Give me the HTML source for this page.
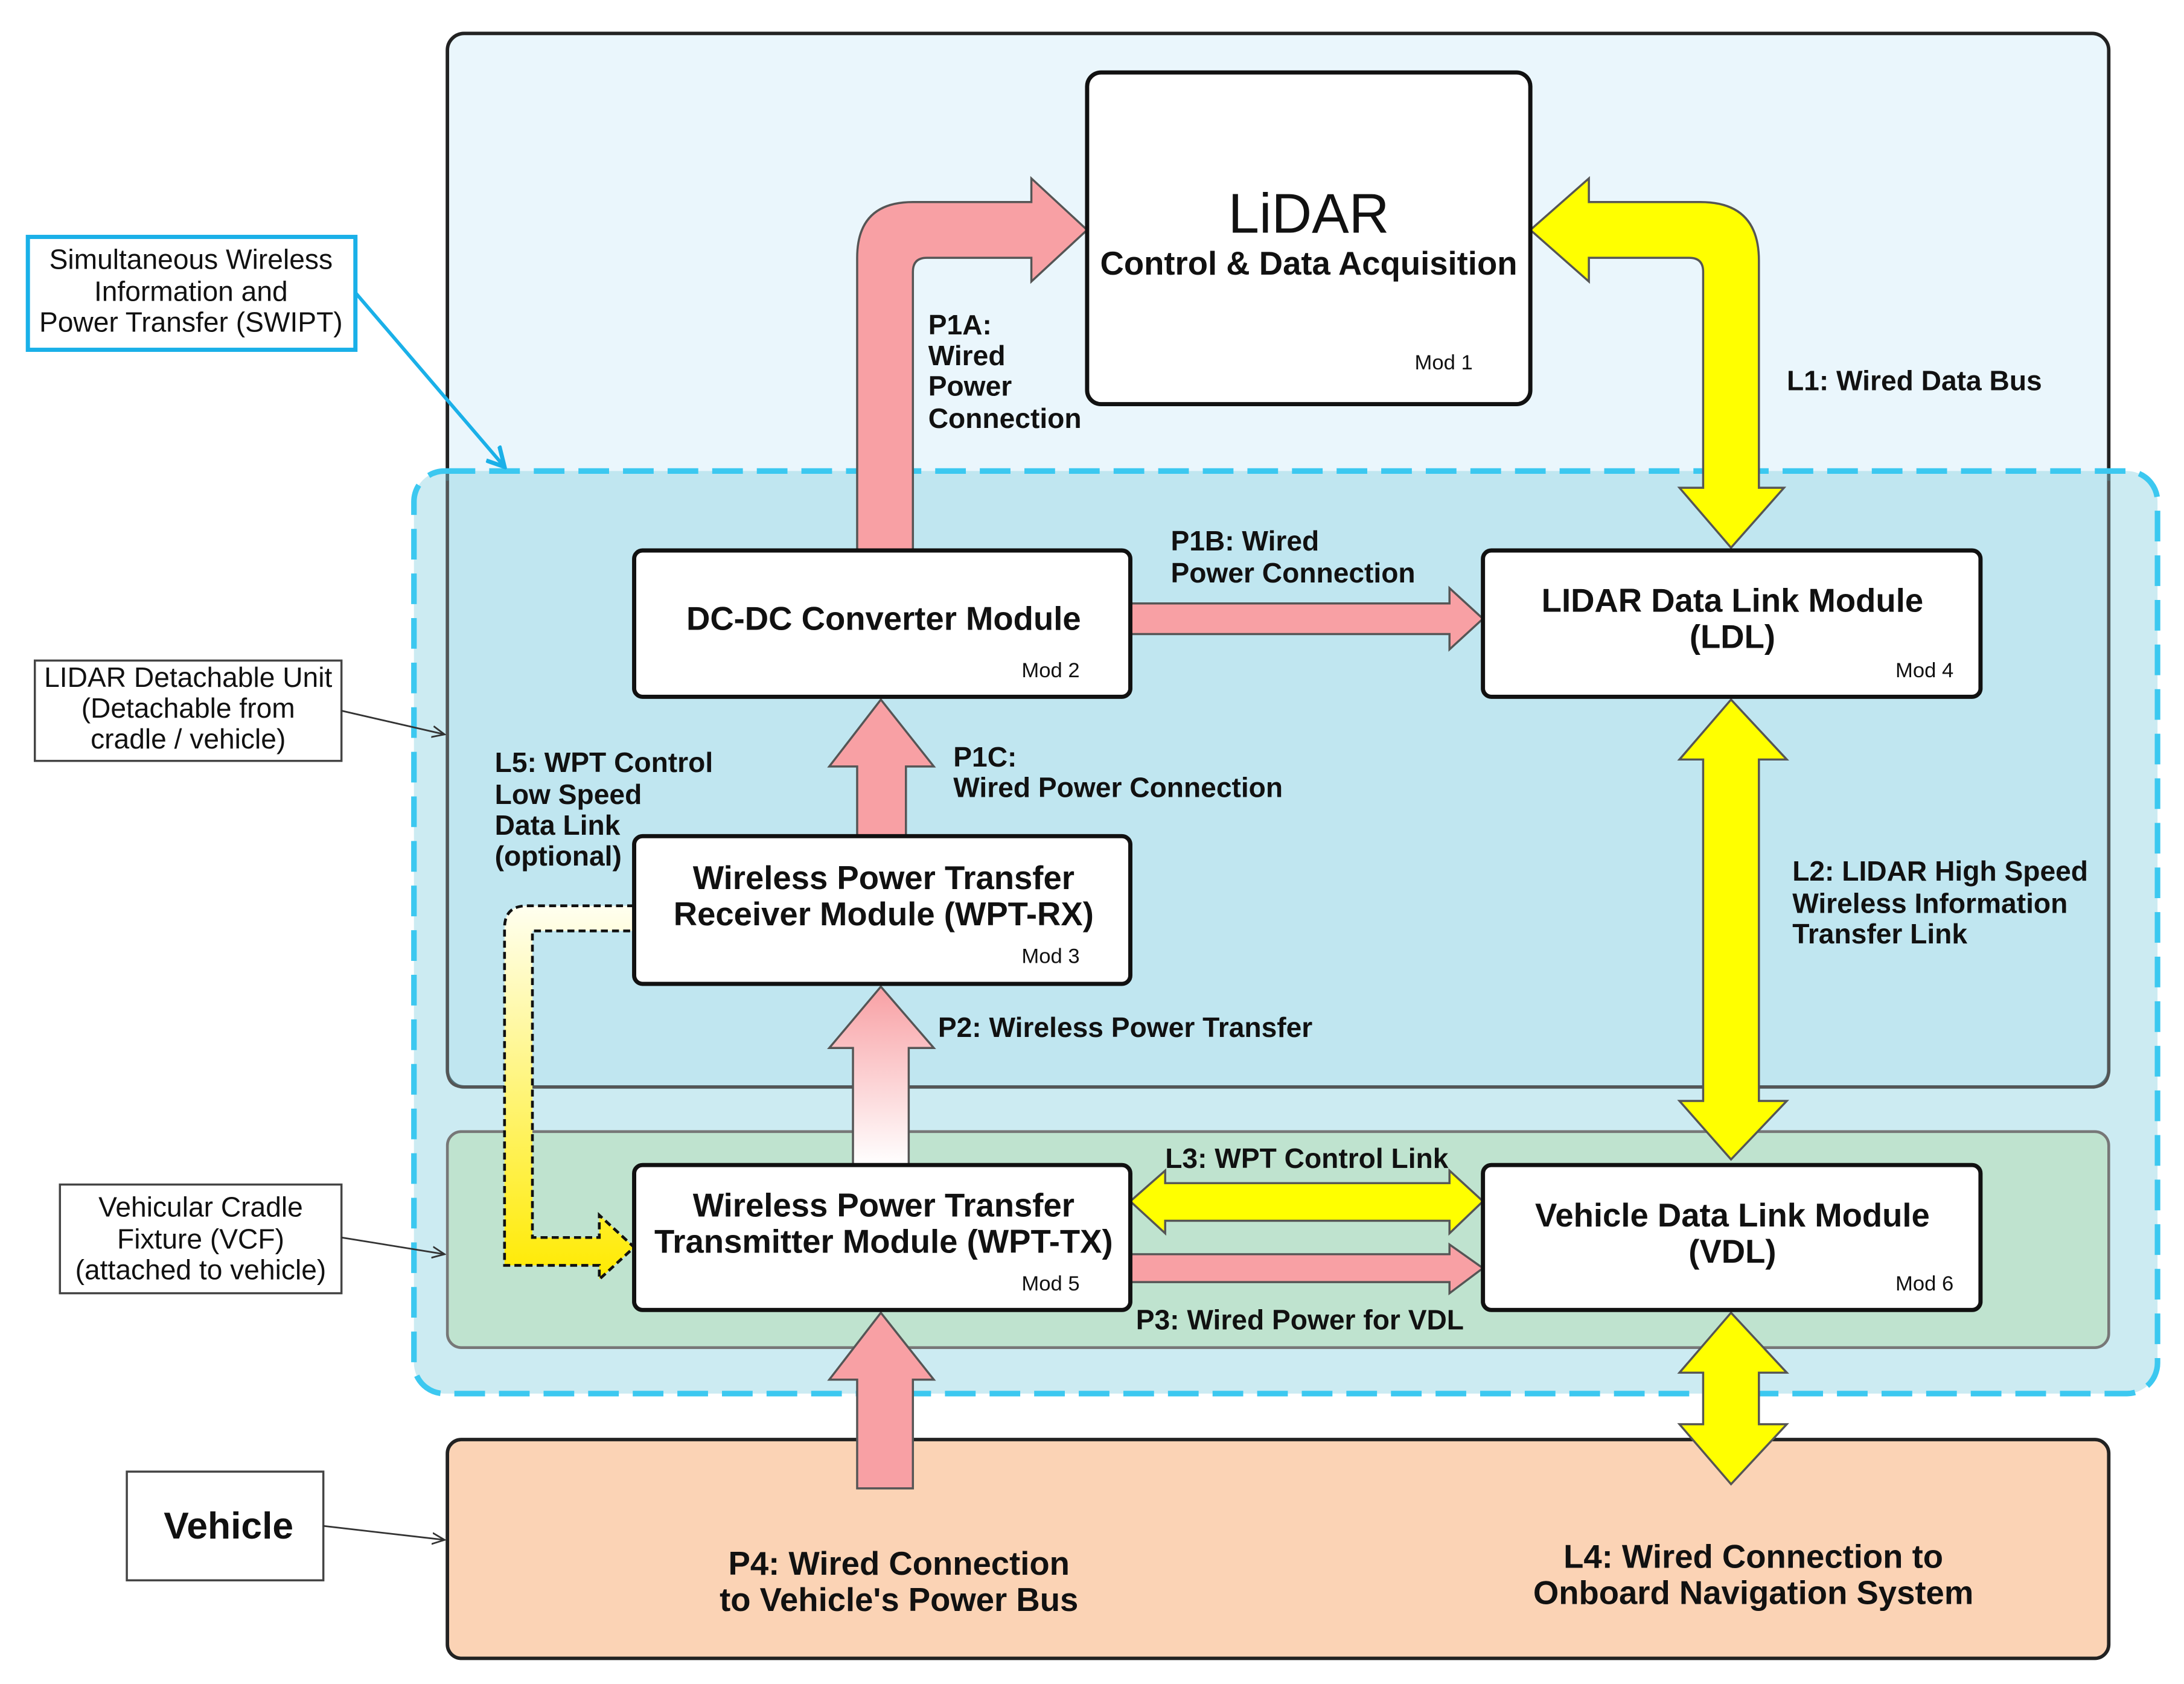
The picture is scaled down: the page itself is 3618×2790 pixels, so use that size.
<!DOCTYPE html>
<html><head><meta charset="utf-8"><style>
html,body{margin:0;padding:0;background:#fff;}
svg{display:block;}
text{font-family:"Liberation Sans",Arial,sans-serif;fill:#111;}
.b{font-weight:bold;font-size:20px;}
.bx{font-weight:bold;font-size:23.6px;}
.m{font-size:15px;}
.n{font-size:20px;}
</style></head><body>
<svg width="3618" height="2790" viewBox="0 0 1567 1208.4" preserveAspectRatio="none" xmlns="http://www.w3.org/2000/svg">
<defs>
<linearGradient id="gp2" x1="0" y1="0" x2="0" y2="1"><stop offset="0" stop-color="#f8a0a4"/><stop offset="1" stop-color="#fff"/></linearGradient>
<linearGradient id="gl5" x1="0" y1="0" x2="0" y2="1"><stop offset="0" stop-color="#fffff0"/><stop offset="1" stop-color="#ffea00"/></linearGradient>
<marker id="ah" markerWidth="10" markerHeight="10" refX="9" refY="5" orient="auto" markerUnits="userSpaceOnUse"><path d="M0,1 L9,5 L0,9" fill="none" stroke="#333" stroke-width="1.2"/></marker>
<marker id="ahc" markerWidth="16" markerHeight="16" refX="14" refY="8" orient="auto" markerUnits="userSpaceOnUse"><path d="M0,1 L14,8 L2,15" fill="none" stroke="#1ab0e8" stroke-width="3"/></marker>
</defs>
<rect width="1600" height="1250" fill="#fff"/>
<rect x="321" y="24" width="1192" height="756" rx="12" fill="#eaf6fc" stroke="#222" stroke-width="2.5"/>
<rect x="297" y="338" width="1251" height="662" rx="22" fill="#8fd3e3" fill-opacity="0.45" stroke="#3cc8f0" stroke-width="4" stroke-dasharray="22,10"/>
<path d="M321,345 L321,768 Q321,780 333,780 L1501,780 Q1513,780 1513,768 L1513,345" fill="none" stroke="#555" stroke-width="2"/>
<rect x="321" y="812" width="1192" height="155" rx="10" fill="#bfe3cf" stroke="#777" stroke-width="2"/>
<rect x="321" y="1033" width="1192" height="157" rx="10" fill="#fbd3b5" stroke="#222" stroke-width="2.5"/>

<path d="M615,395 L615,185 Q615,145 655,145 L740,145 L740,128 L780,165 L740,202 L740,185 L665,185 Q655,185 655,195 L655,395 Z" fill="#f8a0a4" stroke="#555" stroke-width="1.5"/>
<path d="M1098,165 L1140,128 L1140,145 L1220,145 Q1262,145 1262,187 L1262,350 L1280,350 L1242,393 L1205,350 L1222,350 L1222,195 Q1222,185 1212,185 L1140,185 L1140,202 Z" fill="#ffff00" stroke="#555" stroke-width="1.5"/>
<path d="M811,433 L1040,433 L1040,422 L1064,444 L1040,466 L1040,455 L811,455 Z" fill="#f8a0a4" stroke="#555" stroke-width="1.5"/>
<path d="M615,600 L615,550 L595,550 L632,502 L670,550 L650,550 L650,600 Z" fill="#f8a0a4" stroke="#555" stroke-width="1.5"/>
<path d="M612,836 L612,752 L595,752 L632,708 L670,752 L652,752 L652,836 Z" fill="url(#gp2)" stroke="#555" stroke-width="1.5"/>
<path d="M1242,502 L1282,545 L1262,545 L1262,790 L1282,790 L1242,832 L1205,790 L1222,790 L1222,545 L1205,545 Z" fill="#ffff00" stroke="#555" stroke-width="1.5"/>
<path d="M811,862 L836,840 L836,849 L1040,849 L1040,840 L1064,862 L1040,885 L1040,876 L836,876 L836,885 Z" fill="#ffff00" stroke="#555" stroke-width="1.5"/>
<path d="M811,900 L1040,900 L1040,893 L1064,910 L1040,928 L1040,920 L811,920 Z" fill="#f8a0a4" stroke="#555" stroke-width="1.5"/>
<path d="M615,1068 L615,990 L595,990 L632,942 L670,990 L655,990 L655,1068 Z" fill="#f8a0a4" stroke="#555" stroke-width="1.5"/>
<path d="M1242,942 L1282,985 L1262,985 L1262,1022 L1282,1022 L1242,1065 L1205,1022 L1222,1022 L1222,985 L1205,985 Z" fill="#ffff00" stroke="#555" stroke-width="1.5"/>
<path d="M455,650 L378,650 Q362,650 362,666 L362,908 L430,908 L430,918 L455,895 L430,872 L430,888 L382,888 L382,668 L455,668" fill="url(#gl5)" stroke="#111" stroke-width="2" stroke-dasharray="5,3"/>

<rect x="780" y="52" width="318" height="238" rx="10" fill="#fff" stroke="#111" stroke-width="3"/>
<text x="939" y="167" text-anchor="middle" style="font-size:40px">LiDAR</text>
<text x="939" y="197" text-anchor="middle" class="bx">Control &amp; Data Acquisition</text>
<text x="1015" y="265" class="m">Mod 1</text>

<rect x="455" y="395" width="356" height="105" rx="6" fill="#fff" stroke="#111" stroke-width="3"/>
<text x="634" y="452" text-anchor="middle" class="bx">DC-DC Converter Module</text>
<text x="733" y="486" class="m">Mod 2</text>

<rect x="1064" y="395" width="357" height="105" rx="6" fill="#fff" stroke="#111" stroke-width="3"/>
<text x="1243" y="439" text-anchor="middle" class="bx">LIDAR Data Link Module</text>
<text x="1243" y="465" text-anchor="middle" class="bx">(LDL)</text>
<text x="1360" y="486" class="m">Mod 4</text>

<rect x="455" y="600" width="356" height="106" rx="6" fill="#fff" stroke="#111" stroke-width="3"/>
<text x="634" y="638" text-anchor="middle" class="bx">Wireless Power Transfer</text>
<text x="634" y="664" text-anchor="middle" class="bx">Receiver Module (WPT-RX)</text>
<text x="733" y="691" class="m">Mod 3</text>

<rect x="455" y="836" width="356" height="104" rx="6" fill="#fff" stroke="#111" stroke-width="3"/>
<text x="634" y="873" text-anchor="middle" class="bx">Wireless Power Transfer</text>
<text x="634" y="899" text-anchor="middle" class="bx">Transmitter Module (WPT-TX)</text>
<text x="733" y="926" class="m">Mod 5</text>

<rect x="1064" y="836" width="357" height="104" rx="6" fill="#fff" stroke="#111" stroke-width="3"/>
<text x="1243" y="880" text-anchor="middle" class="bx">Vehicle Data Link Module</text>
<text x="1243" y="906" text-anchor="middle" class="bx">(VDL)</text>
<text x="1360" y="926" class="m">Mod 6</text>

<rect x="20" y="170" width="235" height="81" fill="#fff" stroke="#1ab0e8" stroke-width="3"/>
<text x="137" y="193" text-anchor="middle" class="n">Simultaneous Wireless</text>
<text x="137" y="216" text-anchor="middle" class="n">Information and</text>
<text x="137" y="238" text-anchor="middle" class="n">Power Transfer (SWIPT)</text>
<line x1="255" y1="210" x2="362" y2="335" stroke="#1ab0e8" stroke-width="2.5" marker-end="url(#ahc)"/>

<rect x="25" y="474" width="220" height="72" fill="#fff" stroke="#444" stroke-width="1.5"/>
<text x="135" y="493" text-anchor="middle" class="n">LIDAR Detachable Unit</text>
<text x="135" y="515" text-anchor="middle" class="n">(Detachable from</text>
<text x="135" y="537" text-anchor="middle" class="n">cradle / vehicle)</text>
<line x1="245" y1="510" x2="319" y2="527" stroke="#333" stroke-width="1.2" marker-end="url(#ah)"/>

<rect x="43" y="850" width="202" height="78" fill="#fff" stroke="#444" stroke-width="1.5"/>
<text x="144" y="873" text-anchor="middle" class="n">Vehicular Cradle</text>
<text x="144" y="896" text-anchor="middle" class="n">Fixture (VCF)</text>
<text x="144" y="918" text-anchor="middle" class="n">(attached to vehicle)</text>
<line x1="245" y1="888" x2="319" y2="900" stroke="#333" stroke-width="1.2" marker-end="url(#ah)"/>

<rect x="91" y="1056" width="141" height="78" fill="#fff" stroke="#444" stroke-width="1.5"/>
<text x="164" y="1104" text-anchor="middle" style="font-size:27px;font-weight:bold">Vehicle</text>
<line x1="232" y1="1095" x2="319" y2="1105" stroke="#333" stroke-width="1.2" marker-end="url(#ah)"/>

<text x="666" y="240" class="b">P1A:</text>
<text x="666" y="262" class="b">Wired</text>
<text x="666" y="284" class="b">Power</text>
<text x="666" y="307" class="b">Connection</text>
<text x="1282" y="280" class="b">L1: Wired Data Bus</text>
<text x="840" y="395" class="b">P1B: Wired</text>
<text x="840" y="418" class="b">Power Connection</text>
<text x="684" y="550" class="b">P1C:</text>
<text x="684" y="572" class="b">Wired Power Connection</text>
<text x="355" y="554" class="b">L5: WPT Control</text>
<text x="355" y="577" class="b">Low Speed</text>
<text x="355" y="599" class="b">Data Link</text>
<text x="355" y="621" class="b">(optional)</text>
<text x="1286" y="632" class="b">L2: LIDAR High Speed</text>
<text x="1286" y="655" class="b">Wireless Information</text>
<text x="1286" y="677" class="b">Transfer Link</text>
<text x="673" y="744" class="b">P2: Wireless Power Transfer</text>
<text x="836" y="838" class="b">L3: WPT Control Link</text>
<text x="815" y="954" class="b">P3: Wired Power for VDL</text>
<text x="645" y="1130" text-anchor="middle" class="bx">P4: Wired Connection</text>
<text x="645" y="1156" text-anchor="middle" class="bx">to Vehicle's Power Bus</text>
<text x="1258" y="1125" text-anchor="middle" class="bx">L4: Wired Connection to</text>
<text x="1258" y="1151" text-anchor="middle" class="bx">Onboard Navigation System</text>
</svg>
</body></html>
